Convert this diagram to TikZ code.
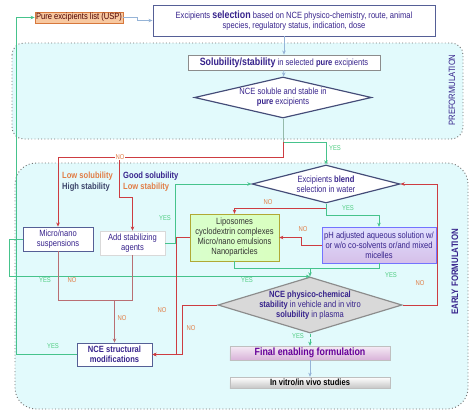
\documentclass[tikz,border=0pt]{standalone}
\usepackage{fontspec}
\setmainfont{Liberation Sans}[FakeStretch=0.84]
\usepackage{xcolor}
\usetikzlibrary{arrows.meta,calc,positioning,shapes.geometric}

\definecolor{regionfill}{RGB}{226,250,252}
\definecolor{txtblue}{RGB}{55,35,140}
\definecolor{boxblue}{RGB}{85,95,150}
\definecolor{nored}{RGB}{205,60,65}
\definecolor{mutedred}{RGB}{185,110,115}
\definecolor{yesgreen}{RGB}{70,195,140}
\definecolor{labno}{RGB}{225,125,70}
\definecolor{labyes}{RGB}{80,205,130}
\definecolor{flowblue}{RGB}{150,180,215}
\definecolor{peach}{RGB}{248,200,160}
\definecolor{peachline}{RGB}{215,120,60}

\begin{document}
\begin{tikzpicture}[
  x=0.03cm, y=-0.03cm,
  font=\fontsize{7.7}{8.6}\selectfont,
  >={Stealth[length=3.5pt,width=3pt]},
  region/.style={draw=black!55, dotted, line width=0.8pt, fill=regionfill},
  box/.style={draw=boxblue, fill=white, line width=0.6pt, text=txtblue,
    align=center, inner sep=1pt},
  cond/.style={diamond, draw=boxblue!80!black, fill=white, line width=1pt,
    inner sep=-3pt, text=txtblue, align=center},
  lab/.style={font=\fontsize{6}{6.5}\selectfont, inner sep=0.5pt},
  yeslab/.style={lab, text=labyes},
  nolab/.style={lab, text=labno},
  flow/.style={->, draw=flowblue, line width=0.6pt},
  noline/.style={->, draw=nored, line width=0.6pt},
  mutedline/.style={->, draw=mutedred, line width=0.6pt},
  yesline/.style={->, draw=yesgreen, line width=0.6pt}
]
  \useasboundingbox (0,0) rectangle (474,414);

  % phases
  \draw[region, rounded corners=10pt] (12,43) rectangle (463,139);
  \draw[region, rounded corners=18pt] (15,163) rectangle (468,409);
  \node[rotate=90, text=txtblue, font=\fontsize{7.8}{8}\selectfont] (preform) at (452,90) {PREFORMULATION};
  \node[rotate=90, text=txtblue, font=\bfseries\fontsize{8}{9}\selectfont] (early) at (455,272) {EARLY FORMULATION};

  % boxes
  \node[draw=peachline, fill=peach, text=black!70!red, inner sep=1pt,
    minimum width=2.64cm, minimum height=0.3cm] (pure) at (79,17.5) {Pure excipients list (USP)};
  \node[box, minimum width=8.46cm, minimum height=0.93cm, line width=0.8pt] (select) at (294,20.5)
    {Excipients {\fontsize{9}{9}\selectfont\bfseries selection} based on NCE physico-chemistry, route, animal\\species, regulatory status, indication, dose};
  \node[box, draw=black!45, minimum width=5.76cm, minimum height=0.45cm] (solub) at (284,62.5)
    {{\fontsize{9}{9}\selectfont\bfseries Solubility/stability} in selected \textbf{pure} excipients};
  \node[cond, aspect=4.3, minimum width=5.31cm, minimum height=1.23cm] (soluble) at (283,97.5)
    {NCE soluble and stable in\\\textbf{pure} excipients};
  \node[cond, aspect=3.9, minimum width=4.44cm, minimum height=1.14cm] (blend) at (326,184)
    {Excipients \textbf{blend}\\selection in water};
  \node[box, minimum width=2.1cm, minimum height=0.72cm] (susp) at (58,239) {Micro/nano\\suspensions};
  \node[box, draw=black!15, minimum width=1.95cm, minimum height=0.72cm] (agents) at (132.5,243) {Add stabilizing\\agents};
  \node[draw=olive!70, left color=yellow!25!green!20, right color=yellow!40!green!25, text=black!80,
    align=center, inner sep=1pt, minimum width=2.67cm, minimum height=1.41cm] (lipo) at (234.5,237.5)
    {Liposomes\\cyclodextrin complexes\\Micro/nano emulsions\\Nanoparticles};
  \node[draw=blue!55, top color=blue!12, bottom color=blue!30!violet!25, text=txtblue, align=center,
    inner sep=1pt, minimum width=3.42cm, minimum height=1.08cm] (ph) at (379,245)
    {pH adjusted aqueous solution w/\\or w/o co-solvents or/and mixed\\micelles};
  \node[cond, draw=black!45, fill=black!15, aspect=3.3, inner sep=-8pt, minimum width=5.52cm, minimum height=1.68cm] (phys) at (310,305)
    {\textbf{NCE physico-chemical}\\\textbf{stability} in vehicle and in vitro\\\textbf{solubility} in plasma};
  \node[box, font=\bfseries\fontsize{7.7}{8.6}\selectfont, minimum width=2.25cm, minimum height=0.69cm] (struct) at (114.5,354.5)
    {NCE structural\\modifications};
  \node[draw=black!25, top color=violet!8, bottom color=violet!30, text=violet!80!blue,
    font=\bfseries\fontsize{9}{9}\selectfont, inner sep=1pt, minimum width=4.8cm, minimum height=0.42cm] (final) at (310,353)
    {Final enabling formulation};
  \node[draw=black!25, top color=white, bottom color=black!22, text=black,
    font=\bfseries\fontsize{7.7}{8}\selectfont, inner sep=1pt, minimum width=4.8cm, minimum height=0.33cm] (vitro) at (310,382.5)
    {In vitro/in vivo studies};

  % outcome notes
  \node[anchor=west, text=labno, font=\bfseries\fontsize{7.7}{8}\selectfont, inner sep=0pt] (lowsol) at (62,176) {Low solubility};
  \node[anchor=west, text=boxblue!70!black, font=\bfseries\fontsize{7.7}{8}\selectfont, inner sep=0pt] (highst) at (62,187) {High stability};
  \node[anchor=west, text=txtblue, font=\bfseries\fontsize{7.7}{8}\selectfont, inner sep=0pt] (goodsol) at (123,176) {Good solubility};
  \node[anchor=west, text=labno, font=\bfseries\fontsize{7.7}{8}\selectfont, inner sep=0pt] (lowst) at (123,187) {Low stability};

  % junctions
  \coordinate (split) at (283,142);
  \coordinate (agbr) at (119,157);
  \coordinate (bsplit) at (326,208);
  \coordinate (ptop) at (310,268);
  \coordinate (sjoin) at (114.5,300);

  % connectors
  \draw[flow] (pure.east) -- ++(14,0) |- (select.west);
  \draw[flow] (solub.north |- select.south) -- (solub.north);
  \draw[flow] (solub) -- (soluble);
  \draw[draw=yesgreen!60!black!50, line width=0.6pt] (soluble.south) -- (split);
  \draw[yesline] (split) -| (blend.north);
  \draw[noline] (split) -- ++(0,15) -| (susp.north);
  \draw[noline] (agbr) -- ++(0,40) -| (agents.north);
  \draw[yesline] (agents.east) -- ++(10,0) |- (blend.west);
  \draw[draw=yesgreen, line width=0.6pt] (blend.south) -- (bsplit);
  \draw[noline] (bsplit) -| (lipo.north);
  \draw[yesline] (bsplit) -- ++(0,7) -| (ph.north);
  \draw[noline] (ph.west) -- ++(-20,0) |- (lipo.east);
  \draw[draw=yesgreen, line width=0.6pt] (lipo.south) |- (ptop);
  \draw[draw=yesgreen, line width=0.6pt] (ph.south) |- (ptop);
  \draw[yesline] (ptop) -- (phys.north);
  \draw[yesline] (susp.west) -- ++(-13,0) |- (phys.north);
  \draw[noline] (phys.east) -- ++(35,0) |- (blend.east);
  \draw[noline] (phys.west) -- ++(-35,0) |- (struct.east);
  \draw[noline] (lipo.west) -- ++(-13,0) |- (struct.east);
  \draw[draw=mutedred, line width=0.6pt] (susp.south) |- (sjoin);
  \draw[draw=mutedred, line width=0.6pt] (agents.south) |- (sjoin);
  \draw[mutedline] (sjoin) -- (struct.north);
  \draw[yesline, densely dashed] (phys.south) -- (final.north);
  \draw[flow] (final) -- (vitro);
  \draw[yesline] (struct.west) -- ++(-60,0) |- (pure.west);

  % labels
  \node[nolab, fill=white] (no1) at (120,157) {NO};
  \node[yeslab] (yes1) at (335,148) {YES};
  \node[yeslab] (yes2) at (165,218) {YES};
  \node[nolab] (no2) at (268,202) {NO};
  \node[yeslab] (yes3) at (348,208) {YES};
  \node[nolab] (no3) at (303,229) {NO};
  \node[yeslab] (yes4) at (45,280) {YES};
  \node[nolab] (no4) at (72,280) {NO};
  \node[yeslab] (yes5) at (247,280) {YES};
  \node[yeslab] (yes6) at (391,275) {YES};
  \node[nolab] (no5) at (420,283) {NO};
  \node[nolab] (no6) at (122,318) {NO};
  \node[nolab] (no7) at (162,310) {NO};
  \node[nolab] (no8) at (191,328) {NO};
  \node[yeslab] (yes7) at (298,336) {YES};
  \node[yeslab] (yes8) at (53,346) {YES};
\end{tikzpicture}
\end{document}
